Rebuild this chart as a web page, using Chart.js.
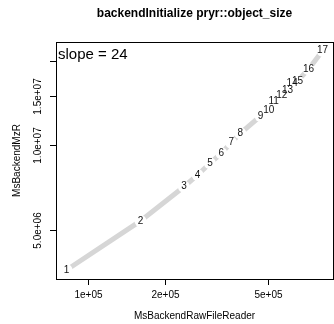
<!DOCTYPE html>
<html>
<head>
<meta charset="utf-8">
<script src="https://cdn.jsdelivr.net/npm/chart.js@4.4.1/dist/chart.umd.min.js"></script>
<style>
  html, body { margin: 0; padding: 0; background: #fff; overflow: hidden; }
  #wrap { width: 339px; height: 324px; }
</style>
</head>
<body>
<div id="wrap"><canvas id="chart" width="339" height="324"></canvas></div>
<script>
// run labels and sizes
const pointLabels = ['1', '2', '3', '4', '5', '6', '7', '8', '9', '10', '11', '12', '13', '14', '15', '16', '17'];
const rawFileReader = [82800, 160500, 236700, 267600, 298800, 331000, 361300, 392000, 469900,
  505300, 527900, 568200, 597800, 623500, 653600, 721700, 817900];
const backendMzR = [3.59e6, 5.37e6, 7.11e6, 7.83e6, 8.62e6, 9.36e6, 1.021e7, 1.103e7, 1.271e7,
  1.335e7, 1.429e7, 1.510e7, 1.573e7, 1.662e7, 1.694e7, 1.865e7, 2.172e7];

const xTicks = [1e5, 2e5, 5e5];
const xTickLabels = ['1e+05', '2e+05', '5e+05'];
const yTicks = [5e6, 1e7, 1.5e7, 2e7];
const yTickLabels = ['5.0e+06', '1.0e+07', '1.5e+07', '']; // 2.0e+07 label dropped (overlap)

const xRange = [75370, 898300];
const yRange = [3.334e6, 2.333e7];

const titleText = 'backendInitialize pryr::object_size';
const xTitle = 'MsBackendRawFileReader';
const yTitle = 'MsBackendMzR';
const slopeText = 'slope = 24';

const FONT = '"Liberation Sans", Arial, Helvetica, sans-serif';

// base-graphics style box, axes and text
const rPlot = {
  id: 'rPlot',
  afterDatasetsDraw(chart) {
    const { ctx, chartArea: a, scales: { x, y } } = chart;
    ctx.save();
    ctx.strokeStyle = '#000';
    ctx.fillStyle = '#000';
    ctx.lineWidth = 1;

    // box
    ctx.strokeRect(a.left + 0.5, a.top + 0.5, a.right - a.left, a.bottom - a.top);

    // x axis
    const xs = xTicks.map(v => Math.round(x.getPixelForValue(v)) + 0.5);
    ctx.beginPath();
    ctx.moveTo(xs[0], a.bottom + 0.5);
    ctx.lineTo(xs[xs.length - 1], a.bottom + 0.5);
    xs.forEach(px => { ctx.moveTo(px, a.bottom); ctx.lineTo(px, a.bottom + 6); });
    ctx.stroke();
    ctx.font = '10px ' + FONT;
    ctx.textAlign = 'center';
    ctx.textBaseline = 'middle';
    xs.forEach((px, i) => ctx.fillText(xTickLabels[i], px, a.bottom + 16));

    // y axis
    const ys = yTicks.map(v => Math.round(y.getPixelForValue(v)) + 0.5);
    ctx.beginPath();
    ctx.moveTo(a.left + 0.5, ys[0]);
    ctx.lineTo(a.left + 0.5, ys[ys.length - 1]);
    ys.forEach(py => { ctx.moveTo(a.left, py); ctx.lineTo(a.left - 6, py); });
    ctx.stroke();
    ys.forEach((py, i) => {
      ctx.save();
      ctx.translate(a.left - 18, py);
      ctx.rotate(-Math.PI / 2);
      ctx.fillText(yTickLabels[i], 0, 0);
      ctx.restore();
    });

    // axis titles
    const cx = (a.left + a.right) / 2;
    const cy = (a.top + a.bottom) / 2;
    ctx.font = '10px ' + FONT;
    ctx.fillText(xTitle, cx, a.bottom + 37);
    ctx.save();
    ctx.translate(17, cy);
    ctx.rotate(-Math.PI / 2);
    ctx.fillText(yTitle, 0, 0);
    ctx.restore();

    // main title
    ctx.font = 'bold 12px ' + FONT;
    ctx.fillText(titleText, cx, 14);

    // slope note
    ctx.font = '15px ' + FONT;
    ctx.textAlign = 'left';
    ctx.fillText(slopeText, a.left + 2, a.top + 13);

    // run numbers at the points
    ctx.font = '10px ' + FONT;
    ctx.textAlign = 'center';
    ctx.fillStyle = '#111';
    chart.getDatasetMeta(0).data.forEach((pt, i) => {
      ctx.fillText(pointLabels[i], pt.x, pt.y);
    });
    ctx.restore();
  }
};

new Chart(document.getElementById('chart'), {
  type: 'line',
  data: {
    datasets: [{
      data: rawFileReader.map((v, i) => ({ x: v, y: backendMzR[i] })),
      borderColor: '#d6d6d6',
      borderWidth: 5,
      pointRadius: 6,
      pointBorderWidth: 0,
      pointBackgroundColor: '#fff',
      tension: 0,
    }],
  },
  options: {
    responsive: false,
    animation: false,
    events: [],
    layout: { padding: { left: 56, top: 42, right: 0, bottom: 45 } },
    plugins: { legend: { display: false }, tooltip: { enabled: false } },
    scales: {
      x: { type: 'logarithmic', min: xRange[0], max: xRange[1], display: false },
      y: { type: 'logarithmic', min: yRange[0], max: yRange[1], display: false },
    },
  },
  plugins: [rPlot],
});
</script>
</body>
</html>
